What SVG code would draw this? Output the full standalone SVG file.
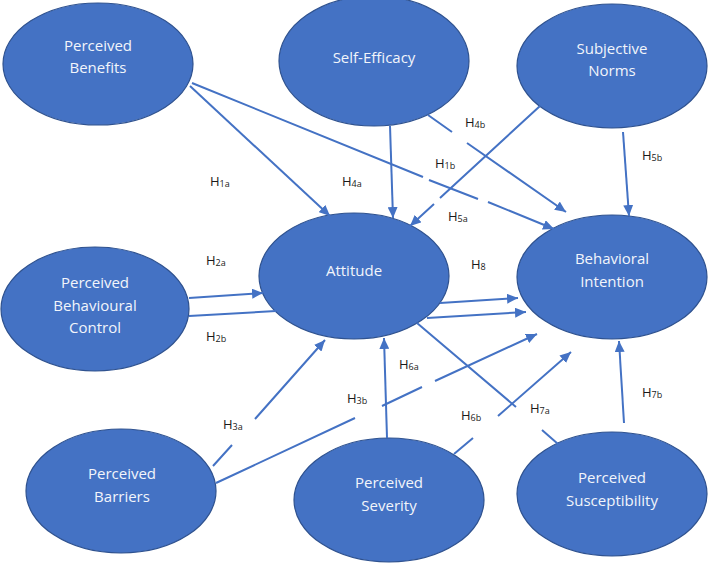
<svg xmlns="http://www.w3.org/2000/svg" width="709" height="565" viewBox="0 0 709 565">
<style>
.node ellipse{fill:#4472C4;stroke:#2F528F;stroke-width:1.2}
.node text{font-family:"Open Sans","Liberation Sans",sans-serif;font-size:15px;fill:#F2F5FB;text-anchor:middle}
.conn path{fill:none;stroke:#4472C4;stroke-width:2}
.arr{marker-end:url(#ah)}
.lbl text{font-family:"Open Sans","Liberation Sans",sans-serif;font-size:13px;fill:#1A1A1A}
.lbl tspan{font-size:9px}
</style>
<defs>
<marker id="ah" markerUnits="userSpaceOnUse" markerWidth="12" markerHeight="10" refX="11" refY="5" orient="auto">
<path d="M0,0 L11,5 L0,10 z" fill="#4472C4"/>
</marker>
</defs>
<rect width="709" height="565" fill="#FFFFFF"/>
<g id="n-benefits" class="node"><ellipse cx="98" cy="64" rx="95" ry="61"/><text x="98" y="51">Perceived</text><text x="98" y="73">Benefits</text></g>
<g id="n-selfefficacy" class="node"><ellipse cx="374" cy="61" rx="95" ry="65"/><text x="374" y="63">Self-Efficacy</text></g>
<g id="n-norms" class="node"><ellipse cx="612" cy="66" rx="95" ry="62"/><text x="612" y="54">Subjective</text><text x="612" y="76">Norms</text></g>
<g id="n-pbc" class="node"><ellipse cx="95" cy="309" rx="94" ry="62"/><text x="95" y="288">Perceived</text><text x="95" y="311">Behavioural</text><text x="95" y="333">Control</text></g>
<g id="n-attitude" class="node"><ellipse cx="354" cy="276" rx="95" ry="63"/><text x="354" y="276">Attitude</text></g>
<g id="n-intention" class="node"><ellipse cx="612" cy="277" rx="95" ry="62"/><text x="612" y="264">Behavioral</text><text x="612" y="287">Intention</text></g>
<g id="n-barriers" class="node"><ellipse cx="121" cy="491" rx="95" ry="62"/><text x="122" y="479">Perceived</text><text x="122" y="502">Barriers</text></g>
<g id="n-severity" class="node"><ellipse cx="389" cy="500" rx="95" ry="62"/><text x="389" y="488">Perceived</text><text x="389" y="511">Severity</text></g>
<g id="n-susceptibility" class="node"><ellipse cx="612" cy="494" rx="95" ry="62"/><text x="612" y="483">Perceived</text><text x="612" y="506">Susceptibility</text></g>
<g id="connectors" class="conn">
<path class="arr" d="M190,86 L330,216"/>
<path class="arr" d="M192,83 L423,177 M429,180 L478,199 M488,202 L554,229"/>
<path class="arr" d="M390,126 L393,218"/>
<path class="arr" d="M428,115 L452,132 M467,143 L566,212"/>
<path class="arr" d="M540,106 L440,198 M434,204 L410,226"/>
<path class="arr" d="M623,132 L629,216"/>
<path class="arr" d="M189,298 L263,293"/>
<path class="arr" d="M189,316 L276,311 M427,318 L526,312"/>
<path class="arr" d="M440,303 L518,298"/>
<path class="arr" d="M213,466 L232,445 M255,419 L325,340"/>
<path class="arr" d="M216,483 L355,418 M382,406 L422,387 M435,381 L537,334"/>
<path class="arr" d="M387,438 L384,338"/>
<path class="arr" d="M454,454 L473,438 M498,416 L571,352"/>
<path d="M417,323 L516,407 M542,430 L558,444"/>
<path class="arr" d="M624,423 L619,341"/>
</g>
<g id="labels" class="lbl">
<text x="210" y="186">H<tspan dy="1">1a</tspan></text>
<text x="342" y="186">H<tspan dy="1">4a</tspan></text>
<text x="465" y="127">H<tspan dy="1">4b</tspan></text>
<text x="435" y="168">H<tspan dy="1">1b</tspan></text>
<text x="642" y="160">H<tspan dy="1">5b</tspan></text>
<text x="448" y="221">H<tspan dy="1">5a</tspan></text>
<text x="206" y="265">H<tspan dy="1">2a</tspan></text>
<text x="471" y="269">H<tspan dy="1">8</tspan></text>
<text x="206" y="341">H<tspan dy="1">2b</tspan></text>
<text x="399" y="369">H<tspan dy="1">6a</tspan></text>
<text x="347" y="403">H<tspan dy="1">3b</tspan></text>
<text x="223" y="429">H<tspan dy="1">3a</tspan></text>
<text x="461" y="420">H<tspan dy="1">6b</tspan></text>
<text x="530" y="413">H<tspan dy="1">7a</tspan></text>
<text x="642" y="397">H<tspan dy="1">7b</tspan></text>
</g>
</svg>
